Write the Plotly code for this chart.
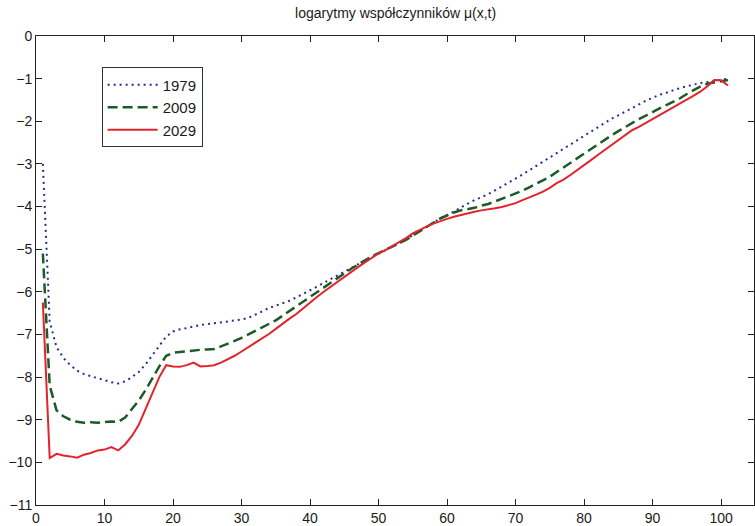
import plotly.graph_objects as go

# wiek (indeks MATLAB 1..101)
x_idx = list(range(1, 102))

series_names = ["1979", "2009", "2029"]

log_mu_1979 = [
    -3.00, -6.70, -7.30, -7.55, -7.72, -7.85, -7.93, -7.98, -8.03, -8.08,
    -8.12, -8.15, -8.10, -8.00, -7.88, -7.70, -7.48, -7.25, -7.05, -6.93,
    -6.88, -6.85, -6.81, -6.78, -6.76, -6.74, -6.71, -6.69, -6.67, -6.65,
    -6.61, -6.54, -6.46, -6.38, -6.32, -6.26, -6.21, -6.13, -6.05, -5.96,
    -5.88, -5.79, -5.70, -5.62, -5.53, -5.45, -5.36, -5.27, -5.19, -5.10,
    -5.02, -4.94, -4.86, -4.77, -4.68, -4.58, -4.48, -4.37, -4.28, -4.20,
    -4.12, -4.02, -3.93, -3.85, -3.78, -3.71, -3.62, -3.53, -3.43, -3.34,
    -3.25, -3.15, -3.05, -2.95, -2.85, -2.75, -2.65, -2.55, -2.45, -2.35,
    -2.24, -2.13, -2.03, -1.94, -1.86, -1.77, -1.68, -1.60, -1.52, -1.45,
    -1.38, -1.33, -1.27, -1.22, -1.18, -1.14, -1.10, -1.08, -1.06, -1.03,
    -1.00,
]

log_mu_2009 = [
    -5.10, -8.20, -8.78, -8.92, -9.00, -9.05, -9.07, -9.06, -9.07, -9.06,
    -9.04, -9.05, -8.95, -8.75, -8.55, -8.30, -8.02, -7.75, -7.50, -7.43,
    -7.41, -7.39, -7.37, -7.36, -7.35, -7.34, -7.28, -7.22, -7.15, -7.08,
    -7.00, -6.92, -6.84, -6.76, -6.67, -6.56, -6.45, -6.33, -6.21, -6.10,
    -5.99, -5.88, -5.77, -5.66, -5.56, -5.46, -5.36, -5.26, -5.17, -5.09,
    -5.02, -4.94, -4.86, -4.78, -4.68, -4.58, -4.46, -4.36, -4.28, -4.21,
    -4.14, -4.09, -4.06, -4.03, -3.98, -3.94, -3.88, -3.82, -3.76, -3.70,
    -3.63, -3.55, -3.47, -3.39, -3.30, -3.19, -3.08, -2.97, -2.86, -2.76,
    -2.65, -2.54, -2.43, -2.33, -2.23, -2.13, -2.04, -1.95, -1.87, -1.78,
    -1.70, -1.62, -1.54, -1.46, -1.36, -1.26, -1.18, -1.12, -1.09, -1.06,
    -1.03,
]

log_mu_2029 = [
    -6.25, -9.90, -9.80, -9.84, -9.86, -9.89, -9.82, -9.78, -9.72, -9.70,
    -9.64, -9.72, -9.58, -9.38, -9.12, -8.75, -8.35, -8.00, -7.72, -7.75,
    -7.76, -7.72, -7.66, -7.75, -7.74, -7.72, -7.66, -7.58, -7.50, -7.40,
    -7.30, -7.20, -7.11, -6.99, -6.87, -6.74, -6.63, -6.52, -6.38, -6.24,
    -6.12, -6.00, -5.88, -5.76, -5.65, -5.53, -5.42, -5.31, -5.20, -5.10,
    -5.02, -4.93, -4.84, -4.74, -4.63, -4.54, -4.47, -4.40, -4.34, -4.29,
    -4.24, -4.20, -4.15, -4.12, -4.09, -4.07, -4.04, -4.01, -3.97, -3.92,
    -3.85, -3.79, -3.72, -3.65, -3.56, -3.45, -3.37, -3.26, -3.15, -3.03,
    -2.91, -2.79, -2.67, -2.55, -2.43, -2.32, -2.21, -2.13, -2.04, -1.96,
    -1.87, -1.78, -1.69, -1.60, -1.51, -1.40, -1.30, -1.18, -1.03, -1.04,
    -1.16,
]

x_ticks = [0, 10, 20, 30, 40, 50, 60, 70, 80, 90, 100]
y_ticks = [0, -1, -2, -3, -4, -5, -6, -7, -8, -9, -10, -11]

FONT = "Liberation Sans, Arial, sans-serif"

fig = go.Figure()
styles = [
    dict(color="#272d8c", width=2, dash="2px,4px"),
    dict(color="#1c5a28", width=2.5, dash="10px,5px"),
    dict(color="#e3232b", width=2, dash="solid"),
]
for name, vals, st in zip(series_names, [log_mu_1979, log_mu_2009, log_mu_2029], styles):
    fig.add_trace(go.Scatter(x=x_idx, y=vals, mode="lines", name=name, line=st))

axis_common = dict(
    showgrid=False, zeroline=False, showline=True, linecolor="#222222",
    linewidth=1, mirror="ticks", ticks="inside", ticklen=6,
    tickcolor="#222222", tickfont=dict(family=FONT, size=14, color="#1a1a1a"),
)

fig.update_layout(
    width=755, height=526,
    margin=dict(l=36, r=0, t=36, b=19),
    paper_bgcolor="white", plot_bgcolor="white",
    title=dict(text="logarytmy współczynników μ(x,t)", x=0.524, xanchor="center",
               y=0.975, yanchor="middle", yref="container",
               font=dict(family=FONT, size=14, color="#1a1a1a")),
    xaxis=dict(range=[0, 104.8], tickvals=x_ticks, **axis_common),
    yaxis=dict(range=[-11, 0], tickvals=y_ticks, **axis_common),
    legend=dict(x=0.0914, y=0.933, xanchor="left", yanchor="top",
                bordercolor="#333333", borderwidth=1, bgcolor="white",
                font=dict(family=FONT, size=15, color="#1a1a1a"),
                itemwidth=50),
    showlegend=True,
)

fig.write_html("out.html")
